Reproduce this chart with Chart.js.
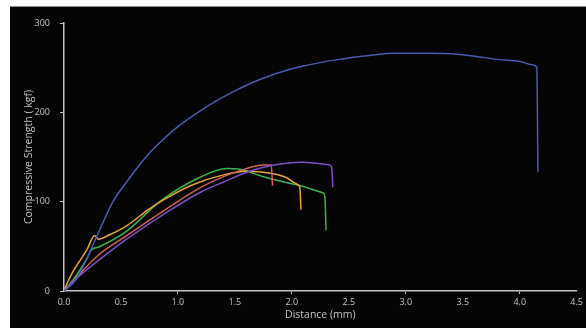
<!DOCTYPE html>
<html>
<head>
<meta charset="utf-8">
<script src="https://cdn.jsdelivr.net/npm/chart.js@4/dist/chart.umd.min.js"></script>
<style>
  html, body { margin: 0; padding: 0; background: #ffffff; width: 586px; height: 328px; overflow: hidden; }
  #frame { position: absolute; left: 10px; top: 6px; width: 576px; height: 322px; background: #050505; border-top: 1px solid #8a8a8a; }
  #wrap { position: absolute; left: 0; top: 0; width: 576px; height: 321px; }
</style>
</head>
<body>
<div id="frame"><div id="wrap"><canvas id="c" width="576" height="321"></canvas></div></div>
<script>
// Distances (mm) and compressive strength (kgf) for each specimen
const blueX   = [0, 0.1, 0.2, 0.287, 0.43, 0.55, 0.65, 0.754, 0.84, 1.0, 1.19, 1.34, 1.5, 1.63, 1.85, 2.07, 2.4, 2.7, 2.89, 3.2, 3.45, 3.65, 3.82, 4.0, 4.12, 4.15, 4.16];
const blueY   = [0, 12, 36, 61, 100, 122, 139, 155, 166, 184, 201, 213, 224, 232, 243, 251, 259, 264, 266, 266, 265, 262, 259, 257, 253, 250, 133];

const purpleX = [0, 0.1, 0.32, 0.55, 0.9, 1.19, 1.4, 1.63, 1.8, 1.95, 2.1, 2.33, 2.35, 2.36];
const purpleY = [0, 13, 36, 58, 88, 110, 122, 134, 140, 143, 144, 141, 138, 116];

const redX    = [0, 0.1, 0.3, 0.55, 0.9, 1.2, 1.4, 1.6, 1.75, 1.82, 1.83];
const redY    = [0, 14, 40, 62, 92, 116, 128, 137, 141, 141, 118];

const orangeX = [0, 0.04, 0.08, 0.15, 0.2, 0.27, 0.3, 0.4, 0.55, 0.75, 0.9, 1.13, 1.4, 1.6, 1.8, 1.95, 2.04, 2.07, 2.08];
const orangeY = [0, 12, 22, 36, 46, 62, 58, 63, 73, 92, 104, 119, 130, 134, 132, 127, 120, 116, 91];

const greenX  = [0, 0.1, 0.2, 0.24, 0.3, 0.55, 0.84, 1.19, 1.43, 1.55, 1.75, 2.04, 2.27, 2.29, 2.30];
const greenY  = [0, 16, 36, 46, 49, 67, 100, 127, 137, 136, 128, 119, 110, 105, 68];

const xTicks = [0, 0.5, 1, 1.5, 2, 2.5, 3, 3.5, 4, 4.5];
const yTicks = [0, 100, 200, 300];

function pts(xs, ys) { return xs.map((x, i) => ({ x: x, y: ys[i] })); }

const series = [
  { label: 'S1', xs: blueX,   ys: blueY,   color: '#4b5bb0' },
  { label: 'S2', xs: purpleX, ys: purpleY, color: '#7b50c8' },
  { label: 'S3', xs: redX,    ys: redY,    color: '#d2605c' },
  { label: 'S4', xs: orangeX, ys: orangeY, color: '#e6a53a' },
  { label: 'S5', xs: greenX,  ys: greenY,  color: '#3fb44c' }
];

const axisColor = '#c4c4c4';
const textColor = '#c4c4c4';
const fontFam = '"Open Sans", "DejaVu Sans", sans-serif';

new Chart(document.getElementById('c'), {
  type: 'line',
  data: {
    datasets: series.map(s => ({
      label: s.label,
      data: pts(s.xs, s.ys),
      borderColor: s.color,
      backgroundColor: s.color,
      borderWidth: 1.5,
      pointRadius: 0,
      fill: false,
      cubicInterpolationMode: 'monotone'
    }))
  },
  options: {
    responsive: false,
    animation: false,
    devicePixelRatio: 1,
    layout: { padding: { left: 0, top: 16, right: 9, bottom: 0 } },
    plugins: { legend: { display: false }, tooltip: { enabled: false } },
    scales: {
      x: {
        type: 'linear',
        min: 0, max: 4.5,
        afterFit: s => { s.height = 37; },
        afterBuildTicks: s => { s.ticks = xTicks.map(v => ({ value: v })); },
        border: { display: true, color: axisColor, width: 1.5 },
        grid: {
          drawOnChartArea: false,
          tickLength: 3,
          color: ctx => (ctx.tick && Number.isInteger(ctx.tick.value) && ctx.tick.value > 0) ? axisColor : 'rgba(0,0,0,0)'
        },
        ticks: {
          color: textColor,
          padding: 3,
          maxRotation: 0,
          font: { family: fontFam, size: 9 },
          callback: v => Number(v).toFixed(1)
        },
        title: {
          display: true,
          text: 'Distance (mm)',
          color: textColor,
          font: { family: fontFam, size: 10.5 },
          padding: { top: 0, bottom: 7 }
        }
      },
      y: {
        type: 'linear',
        min: 0, max: 300,
        afterFit: s => { s.width = 54; },
        afterBuildTicks: s => { s.ticks = yTicks.map(v => ({ value: v })); },
        border: { display: true, color: axisColor, width: 1.5 },
        grid: { drawOnChartArea: false, tickLength: 4, color: axisColor },
        ticks: {
          color: textColor,
          padding: 10,
          font: { family: fontFam, size: 9 }
        },
        title: {
          display: true,
          text: 'Compressive Strength ( kgf)',
          color: textColor,
          font: { family: fontFam, size: 10.5 },
          padding: { top: 13, bottom: 0 }
        }
      }
    }
  }
});
</script>
</body>
</html>
